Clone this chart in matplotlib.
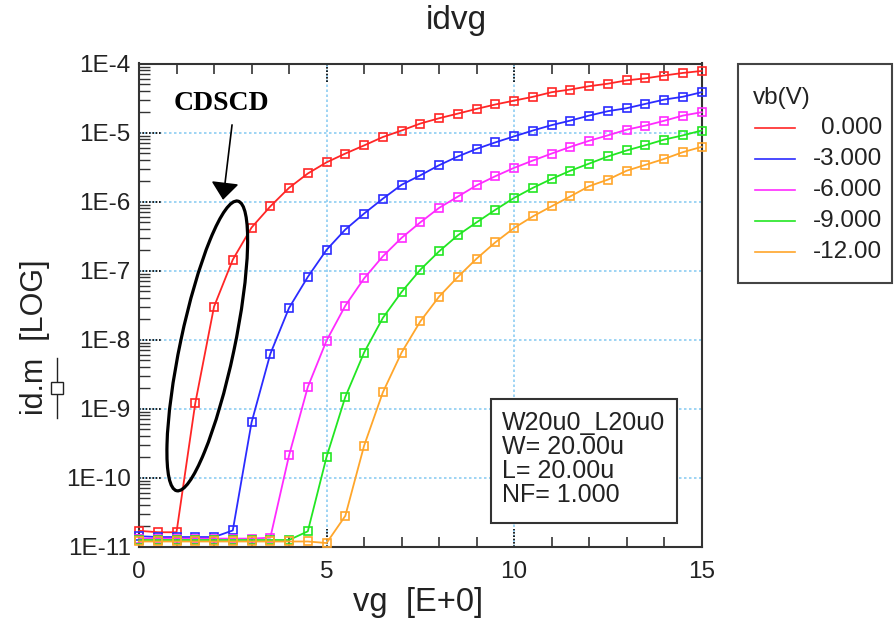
import numpy as np
import matplotlib
matplotlib.use("Agg")
import matplotlib.pyplot as plt
from matplotlib.lines import Line2D
from matplotlib.patches import Rectangle, Ellipse
from matplotlib.transforms import IdentityTransform
from matplotlib.ticker import FixedLocator, FuncFormatter, LogLocator, NullFormatter

plt.rcParams["font.family"] = ["Liberation Sans", "DejaVu Sans"]

# gate sweep (V)
vg = [0.0, 0.5, 1.0, 1.5, 2.0, 2.5, 3.0, 3.5, 4.0, 4.5, 5.0, 5.5, 6.0, 6.5, 7.0, 7.5,
      8.0, 8.5, 9.0, 9.5, 10.0, 10.5, 11.0, 11.5, 12.0, 12.5, 13.0, 13.5, 14.0, 14.5, 15.0]

# drain current (A) for each body bias
id_vb0 = [1.70e-11, 1.62e-11, 1.62e-11, 1.2e-9, 3.0e-8, 1.44e-7, 4.2e-7, 8.5e-7, 1.58e-6,
          2.55e-6, 3.7e-6, 4.96e-6, 6.5e-6, 8.6e-6, 1.07e-5, 1.35e-5, 1.61e-5, 1.88e-5,
          2.2e-5, 2.55e-5, 2.9e-5, 3.29e-5, 3.84e-5, 4.2e-5, 4.69e-5, 5.1e-5, 5.7e-5,
          6.1e-5, 6.7e-5, 7.3e-5, 7.8e-5]
id_vb3 = [1.42e-11, 1.38e-11, 1.38e-11, 1.38e-11, 1.38e-11, 1.72e-11, 6.3e-10, 6.2e-9,
          2.88e-8, 8.1e-8, 2.0e-7, 3.93e-7, 6.7e-7, 1.1e-6, 1.75e-6, 2.4e-6, 3.36e-6,
          4.5e-6, 5.8e-6, 7.2e-6, 8.8e-6, 1.07e-5, 1.28e-5, 1.49e-5, 1.76e-5, 2.04e-5,
          2.25e-5, 2.6e-5, 3.0e-5, 3.3e-5, 3.84e-5]
id_vb6 = [1.31e-11, 1.31e-11, 1.31e-11, 1.31e-11, 1.31e-11, 1.31e-11, 1.31e-11, 1.35e-11,
          2.1e-10, 2.06e-9, 9.7e-9, 3.1e-8, 7.7e-8, 1.61e-7, 2.98e-7, 5.0e-7, 8.1e-7,
          1.18e-6, 1.72e-6, 2.33e-6, 3.08e-6, 3.93e-6, 4.96e-6, 6.2e-6, 7.6e-6, 9.1e-6,
          1.1e-5, 1.26e-5, 1.48e-5, 1.76e-5, 1.97e-5]
id_vb9 = [1.25e-11, 1.25e-11, 1.25e-11, 1.25e-11, 1.25e-11, 1.25e-11, 1.25e-11, 1.25e-11,
          1.25e-11, 1.67e-11, 2.0e-10, 1.48e-9, 6.5e-9, 2.06e-8, 4.9e-8, 1.03e-7, 1.9e-7,
          3.25e-7, 5.0e-7, 7.6e-7, 1.13e-6, 1.58e-6, 2.13e-6, 2.8e-6, 3.55e-6, 4.5e-6,
          5.5e-6, 6.55e-6, 7.9e-6, 9.1e-6, 1.07e-5]
id_vb12 = [1.19e-11, 1.19e-11, 1.19e-11, 1.19e-11, 1.19e-11, 1.19e-11, 1.19e-11, 1.19e-11,
           1.19e-11, 1.19e-11, 1.13e-11, 2.8e-11, 2.9e-10, 1.72e-9, 6.5e-9, 1.84e-8, 4.2e-8,
           8.1e-8, 1.49e-7, 2.57e-7, 4.15e-7, 6.1e-7, 8.55e-7, 1.19e-6, 1.67e-6, 2.08e-6,
           2.8e-6, 3.4e-6, 4.15e-6, 5.2e-6, 6.2e-6]

series = [id_vb0, id_vb3, id_vb6, id_vb9, id_vb12]
vb_labels = ["0.000", "-3.000", "-6.000", "-9.000", "-12.00"]
colors = ["#ff2626", "#2b2bff", "#ff2bff", "#22e622", "#ffa62b"]

xticks = [0, 5, 10, 15]
yticks = [1e-11, 1e-10, 1e-9, 1e-8, 1e-7, 1e-6, 1e-5, 1e-4]

W, H = 896, 628
fig = plt.figure(figsize=(W / 100, H / 100), dpi=100)


def fx(px):
    return px / W


def fy(py):
    return 1 - py / H


ax_l, ax_r, ax_t, ax_b = 139, 701.7, 63.5, 546.7
ax = fig.add_axes([fx(ax_l), fy(ax_b), (ax_r - ax_l) / W, (ax_b - ax_t) / H])

for y, c in zip(series, colors):
    ax.plot(vg, y, color=c, lw=1.3, marker="s", ms=5.6, mfc="none", mec=c, mew=1.2,
            clip_on=False, zorder=3)

ax.set_yscale("log")
ax.set_xlim(0, 15)
ax.set_ylim(1e-11, 1e-4)

ax.xaxis.set_major_locator(FixedLocator(xticks))
ax.xaxis.set_minor_locator(FixedLocator([v for v in range(0, 16) if v % 5]))
ax.yaxis.set_major_locator(FixedLocator(yticks))
ax.yaxis.set_minor_locator(LogLocator(base=10, subs=np.arange(2, 10), numticks=20))
ax.yaxis.set_minor_formatter(NullFormatter())
ax.yaxis.set_major_formatter(FuncFormatter(lambda v, p: "1E%d" % int(round(np.log10(v)))))

ax.tick_params(which="major", length=0, labelsize=17.5, colors="#222222")
ax.tick_params(axis="x", which="major", pad=10)
ax.tick_params(axis="y", which="major", pad=6)
ax.tick_params(axis="x", which="minor", direction="in", length=7, width=1.2,
               top=True, bottom=True, color="#333333")
ax.tick_params(axis="y", which="minor", direction="in", length=8, width=1.0,
               left=True, right=False, color="#333333")

ax.grid(which="major", color="#8ecdf2", linestyle=(0, (1.5, 1.5)), linewidth=1.2)
ax.set_axisbelow(True)
for s in ax.spines.values():
    s.set_color("#333333")
    s.set_linewidth(1.5)

# short dotted marks at the major tick positions
xtrans = ax.get_xaxis_transform()
ytrans = ax.get_yaxis_transform()
seg_y = 18 / (ax_b - ax_t)
seg_x = 22 / (ax_r - ax_l)
for xv in xticks[1:-1]:
    ax.plot([xv, xv], [0, seg_y], transform=xtrans, color="k", lw=1.2, ls=(0, (1, 1)), zorder=2)
    ax.plot([xv, xv], [1 - seg_y, 1], transform=xtrans, color="k", lw=1.2, ls=(0, (1, 1)), zorder=2)
for yv in yticks[1:-1]:
    ax.plot([0, seg_x], [yv, yv], transform=ytrans, color="k", lw=1.2, ls=(0, (1, 1)), zorder=2)

# titles and axis labels
fig.text(fx(456), fy(21), "idvg", ha="center", va="center", fontsize=24, color="#222222")
fig.text(fx(418), fy(603), "vg  [E+0]", ha="center", va="center", fontsize=23.5, color="#222222")
fig.text(fx(35), fy(337), "id.m  [LOG]", ha="center", va="center", rotation=90,
         fontsize=22, color="#222222")
fig.add_artist(Line2D([fx(57), fx(57)], [fy(358), fy(418)], transform=fig.transFigure,
                      color="#222222", lw=1.0))
fig.add_artist(Line2D([fx(57)], [fy(388)], transform=fig.transFigure, marker="s", ms=8,
                      mfc="white", mec="#222222", mew=1.0, lw=0))

# legend box
fig.add_artist(Rectangle((fx(738), fy(283)), (892 - 738) / W, (283 - 64) / H,
                         transform=fig.transFigure, fill=False, ec="#444444", lw=1.5))
fig.text(fx(753), fy(98), "vb(V)", ha="left", va="center", fontsize=17.5, color="#222222")
for i, (c, lab) in enumerate(zip(colors, vb_labels)):
    yy = 128.3 + i * 30.8
    fig.add_artist(Line2D([fx(755), fx(795)], [fy(yy), fy(yy)], transform=fig.transFigure,
                          color=c, lw=1.2))
    fig.text(fx(882), fy(yy), lab, ha="right", va="center", fontsize=17.5, color="#222222")

# device info box
fig.add_artist(Rectangle((fx(491), fy(522.7)), (677.3 - 491) / W, (522.7 - 399.3) / H,
                         transform=fig.transFigure, fc="white", ec="#333333", lw=1.5,
                         zorder=4))
info_lines = ["W20u0_L20u0", "W= 20.00u", "L= 20.00u", "NF= 1.000"]
for i, t in enumerate(info_lines):
    fig.text(fx(502), fy(423.3 + i * 24), t, ha="left", va="center", fontsize=18,
             color="#222222", zorder=5)

# highlighted region with callout
fig.canvas.draw()
cx, cy = ax.transData.transform((1.82, 8.1e-9))
ax.add_patch(Ellipse((cx, cy), width=54, height=296, angle=-11.9, transform=IdentityTransform(),
                     fill=False, ec="k", lw=2.3, zorder=6, clip_on=False))
ax.annotate("", xy=(2.24, 1.06e-6), xytext=(2.48, 1.29e-5), xycoords="data",
            arrowprops=dict(arrowstyle="-|>,head_length=0.54,head_width=0.43",
                            mutation_scale=20, color="k", lw=1.2, shrinkA=0, shrinkB=0),
            zorder=6)
ax.text(2.2, 2.6e-5, "CDSCD", ha="center", va="center", fontsize=20, fontweight="bold",
        family="Liberation Serif", color="k", zorder=6)

fig.savefig("out.png", dpi=100)
